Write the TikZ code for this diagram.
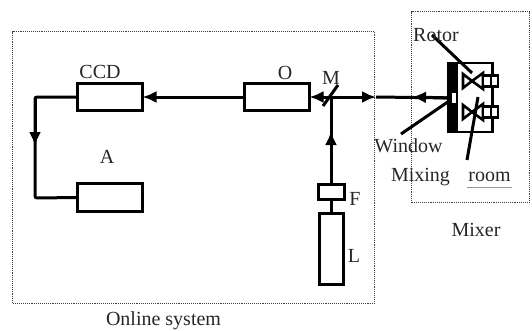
\documentclass[tikz,border=0pt]{standalone}
\usepackage{fontspec}
\setmainfont{Liberation Serif}
\usepackage{tikz}
\usetikzlibrary{arrows.meta, positioning}

\begin{document}
\begin{tikzpicture}[
  x=1pt, y=-1pt,
  caja/.style={draw, line width=3pt, minimum width=#1, inner sep=0pt, outer sep=0pt},
  caja/.default=65pt,
  zona/.style={draw=black!75, line width=1.1pt, densely dotted},
  etiqueta/.style={font=\fontsize{20}{22}\selectfont, inner sep=0pt, text=black!85},
  haz/.style={line width=3pt},
  flecha/.style={haz, -{Latex[length=14pt, width=12pt]}},
  guia/.style={line width=3pt},
  rotor/.style={line width=2.6pt, fill=white}
]
\useasboundingbox (0,0) rectangle (532,330);

% dotted zones
\node[zona, minimum width=362pt, minimum height=272pt, inner sep=0pt, anchor=north west] (online) at (12,31) {};
\node[zona, minimum width=118pt, minimum height=191pt, inner sep=0pt, anchor=north west] (mixer) at (411,11) {};

% online system
\node[caja, minimum height=27.5pt] (ccd) at (110,97) {};
\node[caja, minimum height=28.5pt] (a) at (110,197.5) {};
\node[caja, minimum height=27.5pt] (o) at (277,97) {};
\node[caja=26pt, minimum height=15pt] (f) at (331,191.5) {};
\node[caja=24pt, minimum height=71pt] (l) at (331,248.5) {};

% mixing room
\node[draw, line width=2.6pt, minimum width=44pt, minimum height=69pt, inner sep=0pt, outer sep=0pt] (room) at (470.5,97.5) {};
\node[fill=black, minimum width=10pt, minimum height=71pt, inner sep=0pt] (pared) at (453,97.5) {};
\node[fill=white, minimum width=4pt, minimum height=10pt, inner sep=0pt] (window) at (453.5,98) {};

\foreach \y in {81,112}{
  \draw[rotor] (463,\y-7) -- (472,\y) -- (463,\y+7) -- cycle;
  \draw[rotor] (472,\y) -- (483,\y-8) -- (483,\y+8) -- cycle;
  \draw[rotor] (483,\y-5.5) rectangle (491,\y+5.5);
  \draw[rotor] (491,\y-5.5) rectangle (498,\y+5.5);
}

\coordinate (esquinaA) at (35,97);
\coordinate (esquinaB) at (35,198);
\coordinate (flechaA) at (35,146);
\coordinate (cruce) at (331,97);
\coordinate (flechaM) at (376,97);
\coordinate (flechaV) at (412,97);
\coordinate (flechaF) at (331,131);
\coordinate (espejoA) at (323,106);
\coordinate (espejoB) at (338,85);

% beams
\draw[haz, rounded corners=2pt] (ccd.west) -- (esquinaA) -- (esquinaB) -- (a.west);
\draw[flecha] (esquinaA) -- (flechaA);
\draw[flecha] (o.west) -- (ccd.east);
\draw[flecha] (cruce) -- (o.east);
\draw[flecha] (cruce) -- (flechaM);
\draw[haz] (flechaM) -- (window);
\draw[flecha] (window) -- (flechaV);
\draw[flecha] (f) -- (flechaF);
\draw[haz] (f) -- (cruce);
\draw[haz] (f) -- (l);
\draw[guia] (espejoA) -- (espejoB);

% leaders
\coordinate (rotorA) at (432,35);
\coordinate (rotorB) at (472,73);
\coordinate (ventana) at (401,134);
\coordinate (salaA) at (467,160);
\coordinate (salaB) at (478,97);
\draw[guia] (rotorA) -- (rotorB);
\draw[guia] (ventana) -- (window);
\draw[guia] (salaA) -- (salaB);

% labels
\node[etiqueta] (tccd) at (100,72) {CCD};
\node[etiqueta] (ta) at (107,157) {A};
\node[etiqueta] (to) at (285,73) {O};
\node[etiqueta] (tm) at (331,78) {M};
\node[etiqueta] (tf) at (355,199) {F};
\node[etiqueta] (tl) at (354,256) {L};
\node[etiqueta] (trotor) at (436,35) {Rotor};
\node[etiqueta] (twindow) at (408.5,146) {Window};
\node[etiqueta] (tmixing) at (420.5,177) {Mixing};
\node[etiqueta] (troom) at (489.5,177) {room};
\draw[black!40, line width=1pt] (467,187) -- (512,187);
\node[etiqueta] (tmixer) at (476,230) {Mixer};
\node[etiqueta] (tonline) at (163.5,321) {Online system};
\end{tikzpicture}
\end{document}
